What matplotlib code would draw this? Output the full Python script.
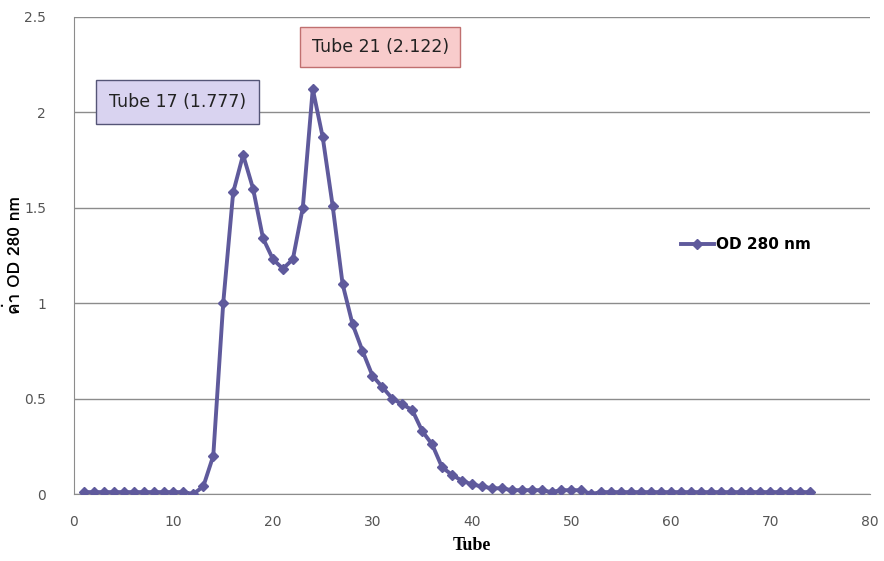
import matplotlib
matplotlib.use("Agg")
import matplotlib.pyplot as plt
from matplotlib import font_manager
from matplotlib.ft2font import FT2Font

# ข้อมูล OD 280 nm ของแต่ละหลอด
tubes = list(range(1, 75))
od280 = [0.01, 0.01, 0.01, 0.01, 0.01, 0.01, 0.01, 0.01, 0.01, 0.01,
         0.01, 0.00, 0.04, 0.20, 1.00, 1.58, 1.777, 1.60, 1.34, 1.23,
         1.18, 1.23, 1.50, 2.122, 1.87, 1.51, 1.10, 0.89, 0.75, 0.62,
         0.56, 0.50, 0.47, 0.44, 0.33, 0.26, 0.14, 0.10, 0.07, 0.05,
         0.04, 0.03, 0.03, 0.02, 0.02, 0.02, 0.02, 0.01, 0.02, 0.02,
         0.02, 0.00, 0.01, 0.01, 0.01, 0.01, 0.01, 0.01, 0.01, 0.01,
         0.01, 0.01, 0.01, 0.01, 0.01, 0.01, 0.01, 0.01, 0.01, 0.01,
         0.01, 0.01, 0.01, 0.01]
label_17 = "Tube 17 (1.777)"
label_21 = "Tube 21 (2.122)"
series_name = "OD 280 nm"
y_title = "ค่า OD 280 nm"
x_title = "Tube"


def find_thai_font():
    for f in font_manager.fontManager.ttflist:
        try:
            if ord("ค") in FT2Font(f.fname).get_charmap():
                return f.name
        except Exception:
            pass
    return None


thai = find_thai_font()
ylab_family = [thai, "DejaVu Sans"] if thai else ["DejaVu Sans"]

line_color = "#5f5a9c"

fig = plt.figure(figsize=(8.84, 5.61), dpi=100, facecolor="white")
ax = fig.add_axes([0.0837, 0.1194, 0.9003, 0.8506])

ax.plot(tubes, od280, color=line_color, linewidth=2.8, marker="D",
        markersize=5, markerfacecolor=line_color, markeredgecolor=line_color,
        label=series_name, zorder=3)

ax.set_xlim(0, 80)
ax.set_ylim(0, 2.5)
ax.set_xticks(range(0, 81, 10))
ax.set_yticks([0, 0.5, 1, 1.5, 2, 2.5])
ax.set_yticklabels(["0", "0.5", "1", "1.5", "2", "2.5"])
ax.yaxis.grid(True, color="#8c8c8c", linewidth=1)
ax.set_axisbelow(True)
for s in ["top", "right"]:
    ax.spines[s].set_visible(False)
for s in ["left", "bottom"]:
    ax.spines[s].set_color("#8c8c8c")
ax.tick_params(axis="both", colors="#8c8c8c", labelcolor="#555555",
               labelsize=10, length=0)
ax.tick_params(axis="x", pad=15)
ax.tick_params(axis="y", pad=20)

ax.set_xlabel(x_title, fontsize=13, fontweight="bold",
              family="Liberation Serif", labelpad=6)
ax.set_ylabel(y_title, fontsize=12.5, fontweight="bold",
              family=ylab_family)
ax.yaxis.set_label_coords(-0.064, 0.5)

ax.text(3.5, 2.055, label_17, fontsize=12.5, color="#222222",
        va="center", ha="left",
        bbox=dict(boxstyle="square,pad=0.75", facecolor="#d9d3f0",
                  edgecolor="#555577", linewidth=1))
ax.text(23.9, 2.343, label_21, fontsize=12.5, color="#222222",
        va="center", ha="left",
        bbox=dict(boxstyle="square,pad=0.65", facecolor="#f8cccc",
                  edgecolor="#c07070", linewidth=1))

ax.legend(loc="center left", bbox_to_anchor=(0.745, 0.522), frameon=False,
          handlelength=2.2, handletextpad=0.1, prop={"size": 11, "weight": "bold"})

fig.savefig("out.png", dpi=100)
plt.close(fig)
